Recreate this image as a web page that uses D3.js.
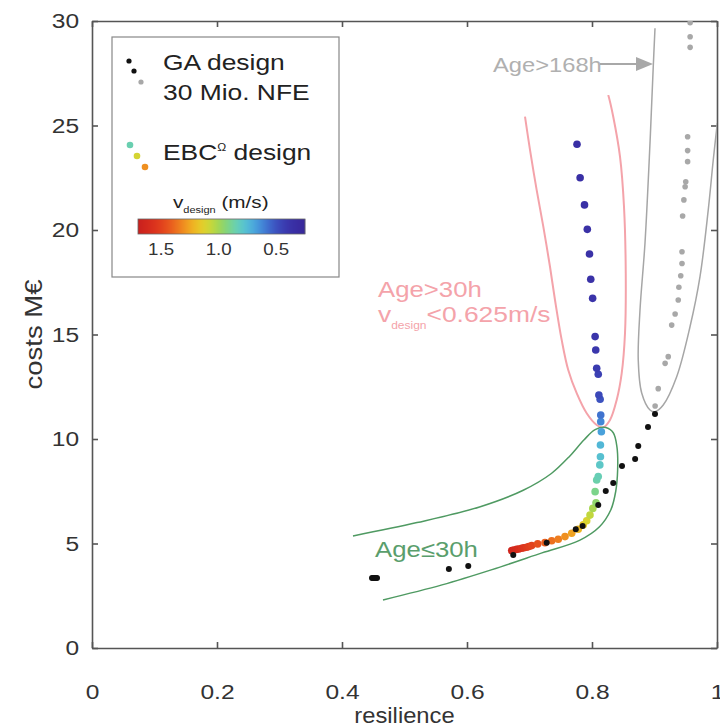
<!DOCTYPE html>
<html lang="en">
<head>
<meta charset="UTF-8">
<title>costs vs resilience</title>
<script src="https://d3js.org/d3.v7.min.js"></script>
<style>
  body { margin: 0; background: #fff; }
  text { font-family: "Liberation Sans", Arial, sans-serif; }
</style>
</head>
<body>
<div id="chart"></div>
<script>
  // GA design, black points (Age <= 168h)
  const gaX = [0.448, 0.450, 0.452, 0.454, 0.456, 0.571, 0.602, 0.674, 0.7275, 0.774, 0.785, 0.810, 0.822, 0.834, 0.848, 0.869, 0.874, 0.8896, 0.9008];
  const gaY = [3.35, 3.35, 3.35, 3.35, 3.35, 3.78, 3.92, 4.45, 5.04, 5.68, 5.84, 6.84, 7.51, 7.89, 8.71, 9.04, 9.67, 10.57, 11.2];

  // GA design, gray points (Age > 168h)
  const gaOldX = [0.957, 0.957, 0.957, 0.953, 0.953, 0.953, 0.950, 0.949, 0.947, 0.945, 0.944, 0.944, 0.942, 0.939, 0.938, 0.933, 0.9275, 0.922, 0.917, 0.906, 0.901];
  const gaOldY = [29.92, 29.25, 28.74, 24.46, 23.8, 23.27, 22.31, 22.07, 21.44, 20.67, 18.96, 18.4, 17.81, 17.26, 16.65, 15.98, 15.45, 13.94, 13.62, 12.41, 11.58];

  // EBC design points and their design velocity (m/s)
  const ebcX = [0.776, 0.781, 0.788, 0.7925, 0.796, 0.798, 0.801, 0.805, 0.806, 0.8075, 0.810, 0.811, 0.813, 0.814, 0.814, 0.815,
                0.8135, 0.8135, 0.8125, 0.810, 0.8075, 0.805, 0.8064, 0.8013, 0.7968, 0.7915, 0.786, 0.778, 0.7675, 0.7568, 0.746,
                0.7355, 0.7248, 0.7131, 0.7035, 0.699, 0.6955, 0.691, 0.6875, 0.683, 0.6795, 0.675, 0.6715];
  const ebcY = [24.1, 22.5, 21.2, 20.03, 18.85, 17.64, 16.73, 14.9, 14.26, 13.38, 13.1, 12.1, 11.9, 11.15, 10.83, 10.35,
                9.71, 9.15, 8.76, 8.2, 8.04, 7.48, 6.95, 6.68, 6.36, 6.09, 5.89, 5.68, 5.49, 5.33, 5.2,
                5.13, 5.04, 4.98, 4.9, 4.86, 4.82, 4.8, 4.77, 4.74, 4.72, 4.69, 4.66];
  const ebcV = [0.35, 0.35, 0.36, 0.36, 0.37, 0.37, 0.38, 0.39, 0.40, 0.42, 0.44, 0.47, 0.50, 0.58, 0.62, 0.68,
                0.74, 0.77, 0.80, 0.84, 0.86, 0.91, 0.96, 1.01, 1.06, 1.11, 1.16, 1.21, 1.26, 1.30, 1.34,
                1.37, 1.41, 1.45, 1.49, 1.51, 1.53, 1.55, 1.57, 1.59, 1.61, 1.63, 1.65];

  // region outlines
  const greenX = [0.4176, 0.52, 0.62, 0.69, 0.735, 0.765, 0.787, 0.805, 0.822, 0.834, 0.840, 0.841, 0.838, 0.830, 0.812, 0.78, 0.72, 0.64, 0.56, 0.4656];
  const greenY = [5.36, 6.0, 6.75, 7.55, 8.35, 9.2, 9.95, 10.45, 10.55, 10.3, 9.6, 8.5, 7.5, 6.6, 5.8, 5.15, 4.55, 3.75, 3.02, 2.30];
  const pinkX = [0.6928, 0.7008, 0.7115, 0.7221, 0.7328, 0.7408, 0.7515, 0.762, 0.7755, 0.7915, 0.8075, 0.818, 0.8288, 0.8395, 0.8475, 0.8528, 0.854, 0.8512, 0.8448, 0.834, 0.826];
  const pinkY = [25.42, 23.83, 21.91, 20.16, 18.24, 16.65, 14.74, 13.3, 12.19, 11.23, 10.67, 10.56, 10.91, 11.87, 13.14, 15.06, 17.93, 21.11, 23.51, 25.42, 26.46];
  const grayX = [0.9008, 0.898, 0.8928, 0.8848, 0.8768, 0.874, 0.8795, 0.8928, 0.9008, 0.914, 0.9355, 0.9568, 0.9728, 0.986, 0.994, 1.0005];
  const grayY = [29.65, 27.81, 24.16, 19.38, 16.17, 13.78, 12.2, 11.39, 11.31, 11.63, 12.98, 15.37, 17.77, 20.96, 23.35, 25.12];

  const xTicks = [0, 0.2, 0.4, 0.6, 0.8, 1];
  const yTicks = [0, 5, 10, 15, 20, 25, 30];
  const cbTicks = [1.5, 1.0, 0.5];

  const W = 720, H = 727;
  const margin = {left: 92, top: 21, right: 3, bottom: 79};
  const SX = 1.17;   // the original lettering is a bit wider than Arial

  const svg = d3.select("#chart").append("svg")
    .attr("width", W).attr("height", H);

  const x = d3.scaleLinear().domain([0, 1]).range([margin.left, W - margin.right]);
  const y = d3.scaleLinear().domain([0, 30]).range([H - margin.bottom, margin.top]);

  const jet = d3.interpolateRgbBasis(["#c8201e", "#dc2f1c", "#ea5a1e", "#f3a220", "#e8dc28", "#90d458",
                                      "#60d4c8", "#48a8e4", "#3c5cc8", "#3a30a8", "#38289a"]);
  const color = d3.scaleSequential(jet).domain([1.7, 0.25]);

  function label(parent, px, py, size, fill, str, sx) {
    return parent.append("text")
      .attr("transform", "translate(" + px + "," + py + ") scale(" + (sx || SX) + ",1)")
      .attr("fill", fill)
      .style("font-size", size + "px")
      .text(str);
  }

  svg.append("clipPath").attr("id", "plot")
    .append("rect")
    .attr("x", x(0)).attr("y", y(30))
    .attr("width", x(1) - x(0)).attr("height", y(0) - y(30));

  // axes, ticks pointing inward
  const axisColor = "#555";
  const fmt = d3.format("");
  svg.append("g")
    .attr("transform", "translate(0," + y(0) + ")")
    .call(d3.axisBottom(x).tickValues(xTicks).tickFormat(fmt).tickSize(-6).tickSizeOuter(0).tickPadding(36));
  svg.append("g")
    .attr("transform", "translate(" + x(0) + ",0)")
    .call(d3.axisLeft(y).tickValues(yTicks).tickSize(-6).tickSizeOuter(0).tickPadding(11));
  svg.append("g")
    .attr("transform", "translate(0," + y(30) + ")")
    .call(d3.axisTop(x).tickValues(xTicks).tickFormat("").tickSize(-6).tickSizeOuter(0));
  svg.append("g")
    .attr("transform", "translate(" + x(1) + ",0)")
    .call(d3.axisRight(y).tickValues(yTicks).tickFormat("").tickSize(-6).tickSizeOuter(0));

  svg.selectAll(".domain, .tick line")
    .attr("stroke", axisColor).attr("stroke-width", 1.6);
  svg.selectAll(".tick text")
    .attr("fill", "#333")
    .attr("transform", "scale(" + SX + ",1)")
    .style("font-size", "21px")
    .style("font-family", "'Liberation Sans', Arial, sans-serif");

  label(svg, x(0.5), 723, 22, "#333", "resilience", 1.08).attr("text-anchor", "middle");
  svg.append("text")
    .attr("transform", "translate(42," + y(15) + ") rotate(-90) scale(1.25,1.1)")
    .attr("text-anchor", "middle")
    .attr("fill", "#333")
    .style("font-size", "22px")
    .text("costs M€");

  // region outlines
  const plot = svg.append("g").attr("clip-path", "url(#plot)");
  const line = d3.line()
    .x(function(d) { return x(d[0]); })
    .y(function(d) { return y(d[1]); })
    .curve(d3.curveCatmullRom);

  plot.append("path")
    .attr("d", line(d3.zip(grayX, grayY)))
    .attr("fill", "none").attr("stroke", "#a6a6a6").attr("stroke-width", 1.5);
  plot.append("path")
    .attr("d", line(d3.zip(pinkX, pinkY)))
    .attr("fill", "none").attr("stroke", "#f4a3aa").attr("stroke-width", 2);
  plot.append("path")
    .attr("d", line(d3.zip(greenX, greenY)))
    .attr("fill", "none").attr("stroke", "#4f9a62").attr("stroke-width", 1.5);

  // points
  plot.selectAll(".old")
    .data(d3.zip(gaOldX, gaOldY))
    .enter().append("circle")
    .attr("cx", function(d) { return x(d[0]); })
    .attr("cy", function(d) { return y(d[1]); })
    .attr("r", 2.8)
    .attr("fill", "#a8a8a8");

  const ebc = d3.range(ebcX.length).map(function(i) { return [ebcX[i], ebcY[i], ebcV[i]]; });
  plot.selectAll(".ebc")
    .data(ebc.slice().reverse())
    .enter().append("circle")
    .attr("cx", function(d) { return x(d[0]); })
    .attr("cy", function(d) { return y(d[1]); })
    .attr("r", 3.8)
    .attr("fill", function(d) { return color(d[2]); });

  plot.selectAll(".ga")
    .data(d3.zip(gaX, gaY))
    .enter().append("circle")
    .attr("cx", function(d) { return x(d[0]); })
    .attr("cy", function(d) { return y(d[1]); })
    .attr("r", 3)
    .attr("fill", "#111");

  // annotations
  label(svg, 493, 72, 21, "#b0b0b0", "Age>168h", 1.13);
  svg.append("line")
    .attr("x1", 600).attr("y1", 64).attr("x2", 640).attr("y2", 64)
    .attr("stroke", "#a8a8a8").attr("stroke-width", 2);
  svg.append("path")
    .attr("d", "M636,57 L653,64 L636,71 Z")
    .attr("fill", "#a8a8a8");

  label(svg, 378, 297, 22, "#f4a3aa", "Age>30h");
  const vt = label(svg, 378, 322, 22, "#f4a3aa", null, 1.2);
  vt.append("tspan").text("v");
  vt.append("tspan").attr("dy", 7).style("font-size", "10px").text("design");
  vt.append("tspan").attr("dy", -7).text("<0.625m/s");

  label(svg, 375, 557, 22, "#5a9e6c", "Age≤30h");

  // legend
  const lg = svg.append("g");
  lg.append("rect")
    .attr("x", 112).attr("y", 37).attr("width", 227).attr("height", 240)
    .attr("fill", "#fff").attr("stroke", "#888").attr("stroke-width", 1.2);

  lg.selectAll(".lgga")
    .data([[129, 61, "#111"], [134, 71, "#111"], [141, 82, "#a8a8a8"]])
    .enter().append("circle")
    .attr("cx", function(d) { return d[0]; })
    .attr("cy", function(d) { return d[1]; })
    .attr("r", 2.6)
    .attr("fill", function(d) { return d[2]; });
  lg.selectAll(".lgebc")
    .data([[130, 145, 0.85], [137, 156, 1.1], [145, 167, 1.3]])
    .enter().append("circle")
    .attr("cx", function(d) { return d[0]; })
    .attr("cy", function(d) { return d[1]; })
    .attr("r", 3.3)
    .attr("fill", function(d) { return color(d[2]); });

  label(lg, 163, 70, 22, "#222", "GA design", 1.2);
  label(lg, 163, 100, 22, "#222", "30 Mio. NFE", 1.2);
  const et = label(lg, 163, 160, 22, "#222", null, 1.2);
  et.append("tspan").text("EBC");
  et.append("tspan").attr("dy", -9).style("font-size", "10px").text("Ω");
  et.append("tspan").attr("dy", 9).text(" design");

  const vl = label(lg, 173, 208, 17, "#222", null, 1.22);
  vl.append("tspan").text("v");
  vl.append("tspan").attr("dy", 5).style("font-size", "9px").text("design");
  vl.append("tspan").attr("dy", -5).text(" (m/s)");

  // colorbar
  const cb = d3.scaleLinear().domain([1.7, 0.25]).range([138, 305]);
  lg.selectAll(".cb")
    .data(d3.range(138, 305))
    .enter().append("rect")
    .attr("x", function(d) { return d; })
    .attr("y", 219).attr("width", 1.2).attr("height", 15)
    .attr("fill", function(d) { return color(cb.invert(d + 0.5)); });
  lg.append("rect")
    .attr("x", 138).attr("y", 219).attr("width", 167).attr("height", 15)
    .attr("fill", "none").attr("stroke", "#666").attr("stroke-width", 0.8);
  lg.selectAll(".cbt")
    .data(cbTicks)
    .enter().append("text")
    .attr("transform", function(d) { return "translate(" + cb(d) + ",255) scale(1.1,1)"; })
    .attr("text-anchor", "middle")
    .attr("fill", "#333")
    .style("font-size", "17px")
    .text(function(d) { return d3.format(".1f")(d); });
</script>
</body>
</html>
